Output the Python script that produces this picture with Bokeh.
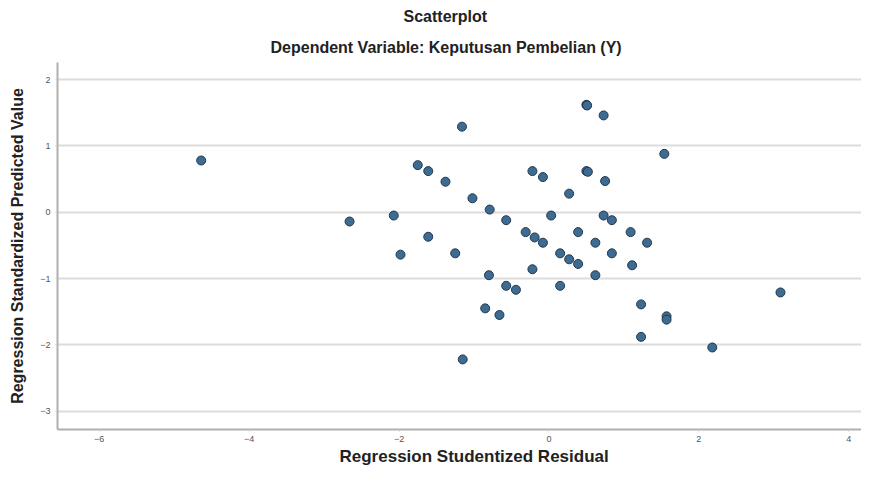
from bokeh.plotting import figure
from bokeh.models import Range1d, FixedTicker, Title, ColumnDataSource
from bokeh.embed import file_html
from bokeh.resources import INLINE

# Regression Studentized Residual (x) and Regression Standardized Predicted Value (y)
residual = [-4.64, -2.66, -2.07, -1.98, -1.75, -1.61, -1.61, -1.38, -1.25, -1.16,
            -1.15, -1.02, -0.85, -0.80, -0.79, -0.66, -0.57, -0.57, -0.44, -0.31,
            -0.22, -0.22, -0.19, -0.08, -0.08, 0.03, 0.15, 0.15, 0.27, 0.27,
            0.39, 0.39, 0.50, 0.51, 0.50, 0.52, 0.62, 0.62, 0.73, 0.73,
            0.75, 0.84, 0.84, 1.09, 1.11, 1.23, 1.23, 1.31, 1.54, 1.57,
            1.57, 2.18, 3.09]
predicted = [0.78, -0.14, -0.05, -0.64, 0.71, 0.62, -0.37, 0.46, -0.62, 1.29,
             -2.22, 0.21, -1.45, -0.95, 0.04, -1.55, -0.12, -1.11, -1.17, -0.30,
             0.62, -0.86, -0.38, 0.53, -0.46, -0.05, -0.62, -1.11, 0.28, -0.71,
             -0.30, -0.78, 1.62, 1.61, 0.62, 0.61, -0.46, -0.95, 1.46, -0.05,
             0.47, -0.12, -0.62, -0.30, -0.80, -1.39, -1.88, -0.46, 0.88, -1.57,
             -1.62, -2.04, -1.21]

x_ticks = [-6, -4, -2, 0, 2, 4]
y_ticks = [-3, -2, -1, 0, 1, 2]

title_main = "Scatterplot"
title_sub = "Dependent Variable: Keputusan Pembelian (Y)"
x_label = "Regression Studentized Residual"
y_label = "Regression Standardized Predicted Value"

FONT = "Liberation Sans"

p = figure(width=861, height=465, output_backend="svg", toolbar_location=None,
           x_range=Range1d(-6.557, 4.171), y_range=Range1d(-3.277, 2.258),
           min_border_left=0, min_border_right=0, min_border_top=0,
           min_border_bottom=0)

p.outline_line_color = None
p.background_fill_color = "white"
p.border_fill_color = "white"

# titles (sub first so it's nearer the plot)
sub = Title(text=title_sub, align="left", offset=213, text_font=FONT,
            text_font_size="16px", text_font_style="bold", text_color="#222222",
            standoff=14)
main = Title(text=title_main, align="left", offset=346, text_font=FONT,
             text_font_size="16px", text_font_style="bold", text_color="#222222",
             standoff=10)
p.add_layout(sub, "above")
p.add_layout(main, "above")

# axes
for ax in (p.xaxis[0], p.yaxis[0]):
    ax.axis_line_color = "#b0b0b0"
    ax.axis_line_width = 2
    ax.major_tick_line_color = "#c8c8c8"
    ax.major_tick_in = 0
    ax.major_tick_out = 2
    ax.minor_tick_line_color = None
    ax.major_label_text_font = FONT
    ax.major_label_text_font_size = "9px"
    ax.major_label_text_color = "#555555"

p.xaxis[0].ticker = FixedTicker(ticks=x_ticks)
p.yaxis[0].ticker = FixedTicker(ticks=y_ticks)
p.xaxis[0].major_label_standoff = 4
p.yaxis[0].major_label_standoff = 5

# y-axis title, with a blank spacer between it and the tick labels
spacer = Title(text=" ", text_font=FONT, text_font_size="1px", standoff=3)
ylab = Title(text=y_label, align="center", text_font=FONT,
             text_font_size="16px", text_font_style="bold", text_color="#222222",
             standoff=12)
p.left = [p.yaxis[0], spacer, ylab]

# x-axis title as a bottom title so it can sit close to the page bottom
xt = Title(text=x_label, align="left", offset=282, text_font=FONT,
           text_font_size="17px", text_font_style="bold", text_color="#222222",
           standoff=0)
p.add_layout(xt, "below")

p.xgrid.grid_line_color = None
p.ygrid.grid_line_color = "#dcdcdc"
p.ygrid.grid_line_width = 2

src = ColumnDataSource(dict(x=residual, y=predicted))
p.scatter("x", "y", source=src, size=9, fill_color="#3d6b92",
          line_color="#23384c", line_width=1)

open("out.html", "w").write(file_html(p, INLINE))
